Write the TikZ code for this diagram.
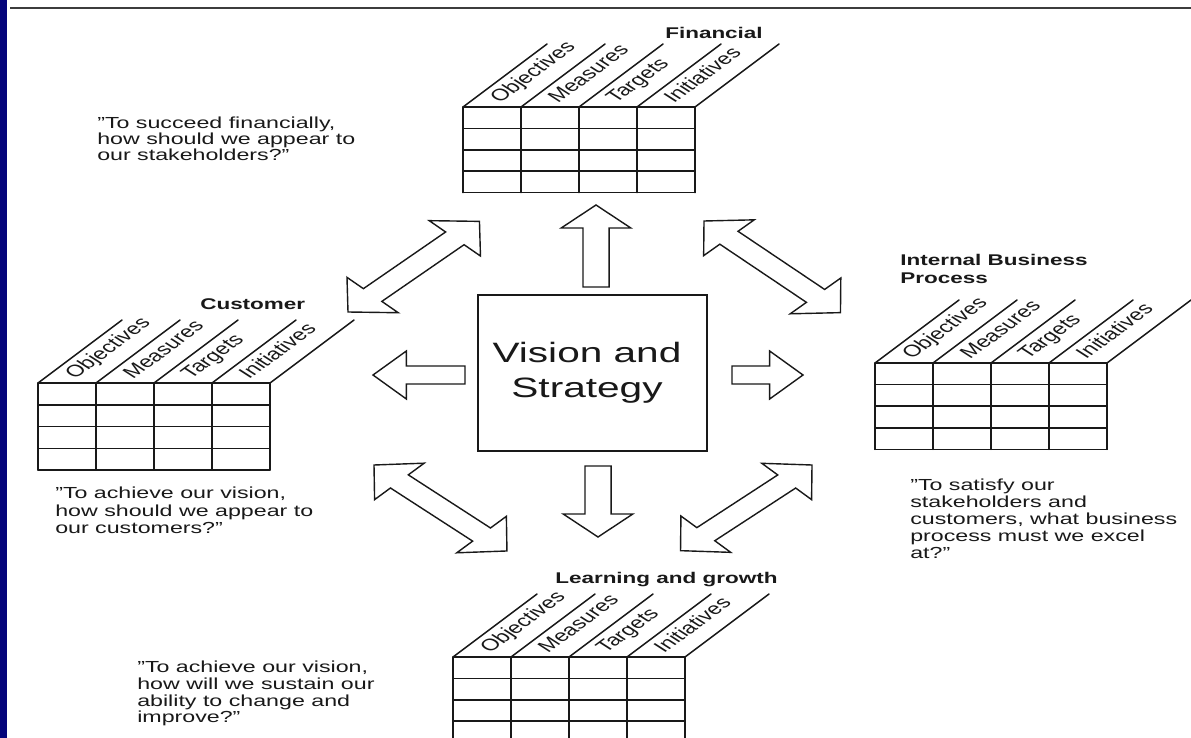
\documentclass[tikz,border=0pt]{standalone}
\usepackage{fontspec}
\setmainfont{Liberation Sans}
\usetikzlibrary{calc}
\definecolor{ink}{RGB}{25,25,25}
\definecolor{navystrip}{RGB}{4,4,122}
\tikzset{
  tline/.style={draw=ink, line width=1.5pt, line cap=round},
  blockarrow/.style={draw=ink, line width=1.4pt, fill=white, line join=miter},
  quotetext/.style={font=\fontsize{16}{#1}\selectfont, text=ink, align=left, xscale=1.45, anchor=north west, inner sep=0pt},
  headtext/.style={font=\bfseries\fontsize{15.5}{17.3}\selectfont, text=ink, align=left, xscale=1.45, anchor=base west, inner sep=0pt},
  collabel/.style={font=\fontsize{16.5}{16.5}\selectfont, text=ink, xscale=1.45, rotate=47, anchor=base west, inner sep=0pt},
  visiontext/.style={font=\fontsize{28}{35}\selectfont, text=ink, xscale=1.45, align=center, inner sep=0pt},
  visionbox/.style={draw=ink, line width=1.6pt, minimum width=229pt, minimum height=156pt, inner sep=0pt},
}
% table with slanted heading: #1 name, #2 x, #3 y (top-left), #4 row height
\newcommand\bsctable[4]{%
  \foreach \i in {0,...,4}{\draw[tline] ({#2+58*\i},#3) -- ++(84,-63);}
  \foreach \r in {0,...,4}{\draw[tline] (#2,{#3+#4*\r}) -- ++(232,0);}
  \foreach \i in {0,...,4}{\draw[tline] ({#2+58*\i},#3) -- ++(0,{4*#4});}
  \foreach \t [count=\k from 0] in {Objectives,Measures,Targets,Initiatives}{
    \node[collabel] (#1-\k) at ({#2+58*\k+37},{#3-3}) {\t};}
}
% block arrow from (#1,#2) to (#3,#4); #5 = 1 single, 2 double
\newcommand\blockarr[5]{%
  \pgfmathsetmacro\bdx{((#3)-(#1))/1.45}%
  \pgfmathsetmacro\bdy{(#2)-(#4)}%
  \pgfmathsetmacro\bang{atan2(\bdy,\bdx)}%
  \pgfmathsetmacro\blen{veclen(\bdx,\bdy)}%
  \begin{scope}[shift={(#1,#2)}, xscale=1.45, rotate=\bang]
    \ifnum#5=2
      \draw[blockarrow] (0,0) -- (24,25) -- (24,9) -- ({\blen-24},9) -- ({\blen-24},25) -- (\blen,0) -- ({\blen-24},-25) -- ({\blen-24},-9) -- (24,-9) -- (24,-25) -- cycle;
    \else
      \draw[blockarrow] (0,-9) -- ({\blen-23},-9) -- ({\blen-23},-24) -- (\blen,0) -- ({\blen-23},24) -- ({\blen-23},9) -- (0,9) -- cycle;
    \fi
  \end{scope}}
\begin{document}
\begin{tikzpicture}[x=1pt,y=-1pt]
\useasboundingbox (0,0) rectangle (1191,738);
\clip (0,0) rectangle (1191,738);
\fill[white] (0,0) rectangle (1191,738);
\fill[navystrip] (0,0) rectangle (7,738);
\draw[draw=ink!85, line width=2pt] (10,8.5) -- (1191,8.5);

% centre
\node[visionbox] (vs) at (592.5,373) {};
\node[visiontext] (vstext) at (587,373) {Vision and\\Strategy};

% tables
\bsctable{fin}{463}{107}{21.4}
\bsctable{cus}{38}{383}{21.75}
\bsctable{ibp}{875}{363}{21.6}
\bsctable{lg}{453}{657}{21.4}

% headings
\node[headtext] (finh) at (665,38.5) {Financial};
\node[headtext] (cush) at (200,309.5) {Customer};
\node[headtext, anchor=north west] (ibph) at (900,254.5) {Internal Business\\Process};
\node[headtext] (lgh) at (555,583.5) {Learning and growth};

% questions
\node[quotetext=16] (finq) at (97,117) {"To succeed financially,\\how should we appear to\\our stakeholders?"};
\node[quotetext=17.5] (cusq) at (55,487) {"To achieve our vision,\\how should we appear to\\our customers?"};
\node[quotetext=17] (ibpq) at (910,479) {"To satisfy our\\stakeholders and\\customers, what business\\process must we excel\\at?"};
\node[quotetext=16.7] (lgq) at (137,661) {"To achieve our vision,\\how will we sustain our\\ability to change and\\improve?"};

% arrows
\blockarr{596}{287}{596}{205}{1}
\blockarr{598}{466}{598}{537}{1}
\blockarr{465}{375}{373}{375}{1}
\blockarr{732}{375}{803}{375}{1}
\blockarr{348}{312}{480}{221}{2}
\blockarr{704}{221}{841}{313}{2}
\blockarr{374}{465}{507}{551}{2}
\blockarr{812}{465}{680}{551}{2}
\end{tikzpicture}
\end{document}
